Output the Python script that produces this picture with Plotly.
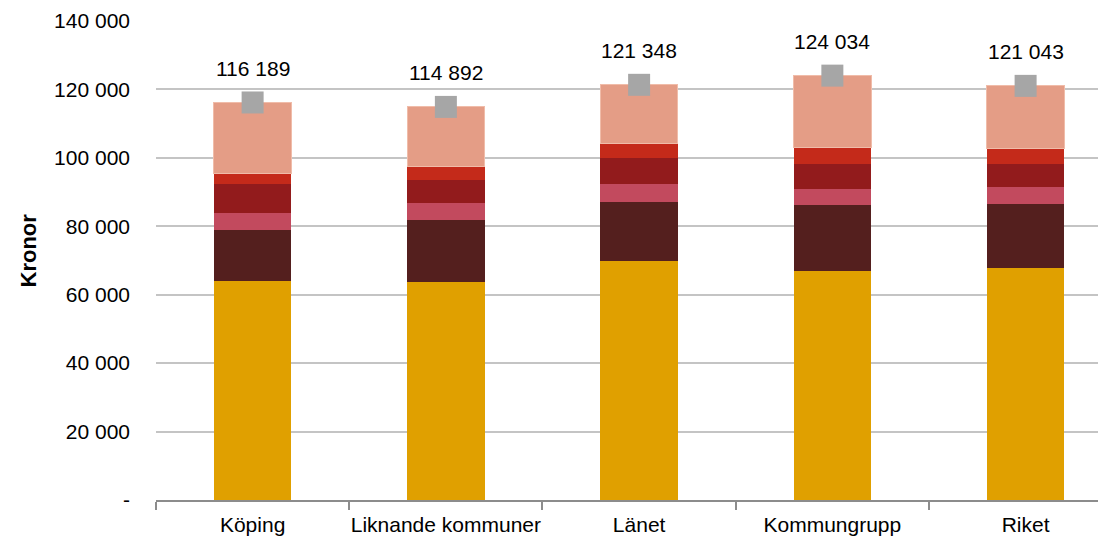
import plotly.graph_objects as go

categories = ["Köping", "Liknande kommuner", "Länet", "Kommungrupp", "Riket"]

seg_gold = [64000, 63700, 69850, 66950, 67800]
seg_brown = [14900, 18100, 17350, 19300, 18700]
seg_pink = [4950, 4950, 5150, 4650, 4950]
seg_darkred = [8500, 6750, 7600, 7300, 6700]
seg_red = [3150, 4000, 4200, 4700, 4450]
seg_salmon = [20700, 17400, 17200, 21150, 18450]

totals = [116189, 114892, 121348, 124034, 121043]

y_tickvals = [0, 20000, 40000, 60000, 80000, 100000, 120000, 140000]
y_ticktext = ["-", "20 000", "40 000", "60 000", "80 000", "100 000", "120 000", "140 000"]

FONT = "Liberation Sans, Arial, sans-serif"
FS = 21

segments = [
    (seg_gold, "#E0A000", None),
    (seg_brown, "#541F1E", None),
    (seg_pink, "#C24A5E", None),
    (seg_darkred, "#921B1C", None),
    (seg_red, "#C42A1A", None),
    (seg_salmon, "#E49D86", "#F0BCA9"),
]

fig = go.Figure()
for vals, color, line in segments:
    fig.add_trace(go.Bar(
        x=categories, y=vals, width=0.4,
        marker=dict(color=color,
                    line=dict(color=line if line else color, width=1 if line else 0)),
        showlegend=False, hoverinfo="skip",
    ))

fig.add_trace(go.Scatter(
    x=categories, y=totals, mode="markers",
    marker=dict(symbol="square", size=22, color="#A6A6A6", line=dict(width=0)),
    showlegend=False, hoverinfo="skip",
))

for c, t in zip(categories, totals):
    fig.add_annotation(
        x=c, y=t, text=f"{t:,}".replace(",", " "),
        showarrow=False, yanchor="middle", yshift=34,
        font=dict(family=FONT, size=FS, color="#000000"),
    )

# y-axis title
fig.add_annotation(
    xref="paper", yref="paper", x=-0.1347, y=0.521,
    xanchor="center", yanchor="middle", textangle=-90,
    text="<b>Kronor</b>", showarrow=False,
    font=dict(family=FONT, size=22, color="#000000"),
)

# page body has an 8px default margin: size the figure to fill the rest
fig.update_layout(
    width=1098, height=528,
    margin=dict(l=148, r=0, t=13, b=36, pad=0),
    barmode="stack",
    plot_bgcolor="#FFFFFF", paper_bgcolor="#FFFFFF",
    font=dict(family=FONT, size=FS, color="#000000"),
    showlegend=False,
)

fig.update_xaxes(
    type="category", automargin=False,
    range=[-0.5, 4.416],
    showline=True, linecolor="#8C8C8C", linewidth=1.5,
    ticks="outside", tickson="boundaries", ticklen=8, tickcolor="#8C8C8C", tickwidth=1.5,
    ticklabelstandoff=5, tickangle=0,
    showgrid=False,
    tickfont=dict(family=FONT, size=FS, color="#000000"),
)

fig.update_yaxes(
    automargin=False,
    range=[0, 140000],
    tickvals=y_tickvals, ticktext=y_ticktext,
    showgrid=True, gridcolor="#C4C4C4", gridwidth=1.5,
    zeroline=False, showline=False,
    ticks="", ticklabelstandoff=25,
    tickfont=dict(family=FONT, size=FS, color="#000000"),
)

fig.write_html("out.html")
